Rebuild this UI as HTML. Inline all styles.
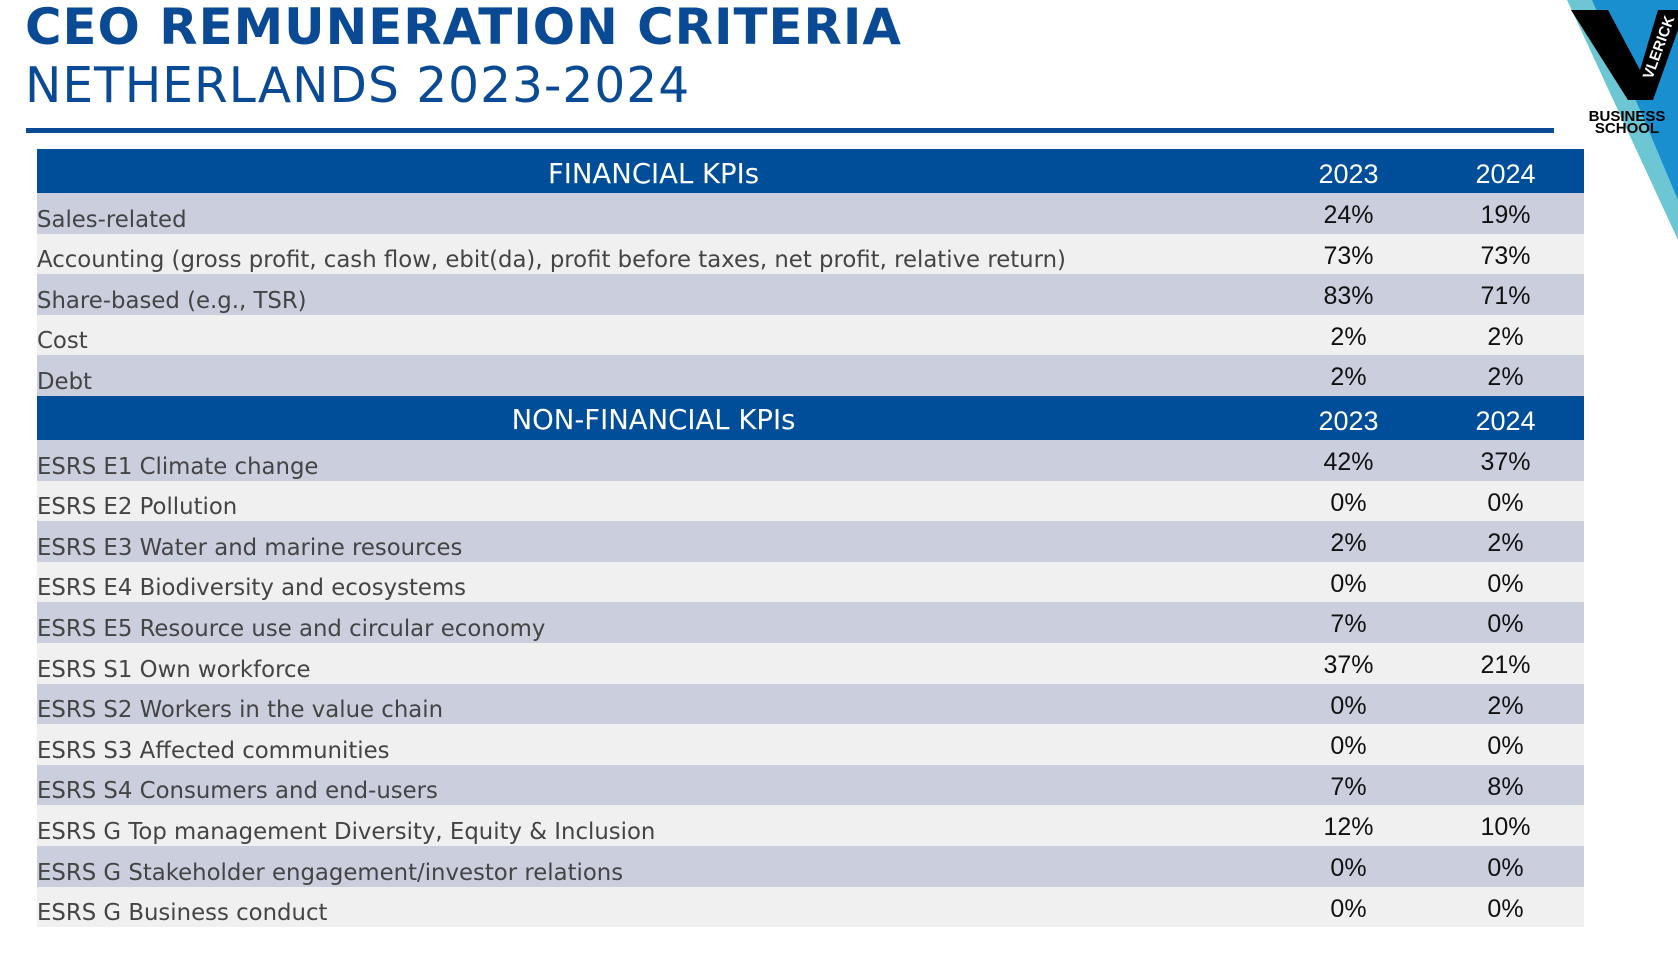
<!DOCTYPE html>
<html><head><meta charset="utf-8"><style>
body{margin:0;width:1678px;height:955px;background:#fff;position:relative;overflow:hidden;font-family:"DejaVu Sans",Verdana,sans-serif}
.t1{position:absolute;left:25px;top:-2px;font-size:49.8px;font-weight:bold;color:#0a4a94;letter-spacing:1px;white-space:nowrap}
.t2{position:absolute;left:25px;top:58px;font-size:48.6px;color:#0a4a94;letter-spacing:1px;white-space:nowrap}
.rule{position:absolute;left:26px;top:128px;width:1528px;height:5px;background:#0a4a94}
table{position:absolute;left:37px;top:149px;width:1547px;border-collapse:collapse}
td{padding:0;height:40.6px;font-size:22.8px;color:#444;white-space:nowrap;vertical-align:bottom;padding-bottom:1px;box-sizing:border-box}
td.n{font-family:"Liberation Sans",Arial,sans-serif;color:#111;font-size:25px;text-align:center;vertical-align:top;padding-top:8px;width:157px}
tr.h td{background:#004d99;color:#fff;height:44px;font-size:27.5px;text-align:center;vertical-align:middle;padding:5px 0 0 0}
tr.h td.n{color:#fff;font-size:27px;padding-top:7px}
tr.a td{background:#cbcedd}
tr.b td{background:#f0f0f1}
</style></head><body>
<div class="t1">CEO REMUNERATION CRITERIA</div>
<div class="t2">NETHERLANDS 2023-2024</div>
<div class="rule"></div>
<svg style="position:absolute;left:1560px;top:0" width="118" height="250" viewBox="1560 0 118 250">
<polygon points="1567,0 1678,0 1678,240" fill="#6cc6d4"/>
<polygon points="1592,0 1678,0 1678,200 1640,110" fill="#1a8fd0"/>
<polygon points="1571,10 1608,10 1640,70 1658,10 1678,10 1678,30 1653,100 1628,100" fill="#000"/>
<text x="1652" y="80" transform="rotate(-70 1652 80)" font-family="Liberation Sans" font-weight="bold" font-size="15" fill="#fff">VLERICK</text>
<text x="1627" y="121" text-anchor="middle" font-family="Liberation Sans" font-weight="bold" font-size="15" fill="#000">BUSINESS</text>
<text x="1627" y="133" text-anchor="middle" font-family="Liberation Sans" font-weight="bold" font-size="15" fill="#000">SCHOOL</text>
</svg>
<table>
<tr class="h"><td>FINANCIAL KPIs</td><td class="n">2023</td><td class="n">2024</td></tr>
<tr class="a"><td>Sales-related</td><td class="n">24%</td><td class="n">19%</td></tr>
<tr class="b"><td>Accounting (gross profit, cash flow, ebit(da), profit before taxes, net profit, relative return)</td><td class="n">73%</td><td class="n">73%</td></tr>
<tr class="a"><td>Share-based (e.g., TSR)</td><td class="n">83%</td><td class="n">71%</td></tr>
<tr class="b"><td>Cost</td><td class="n">2%</td><td class="n">2%</td></tr>
<tr class="a"><td>Debt</td><td class="n">2%</td><td class="n">2%</td></tr>
<tr class="h"><td>NON-FINANCIAL KPIs</td><td class="n">2023</td><td class="n">2024</td></tr>
<tr class="a"><td>ESRS E1 Climate change</td><td class="n">42%</td><td class="n">37%</td></tr>
<tr class="b"><td>ESRS E2 Pollution</td><td class="n">0%</td><td class="n">0%</td></tr>
<tr class="a"><td>ESRS E3 Water and marine resources</td><td class="n">2%</td><td class="n">2%</td></tr>
<tr class="b"><td>ESRS E4 Biodiversity and ecosystems</td><td class="n">0%</td><td class="n">0%</td></tr>
<tr class="a"><td>ESRS E5 Resource use and circular economy</td><td class="n">7%</td><td class="n">0%</td></tr>
<tr class="b"><td>ESRS S1 Own workforce</td><td class="n">37%</td><td class="n">21%</td></tr>
<tr class="a"><td>ESRS S2 Workers in the value chain</td><td class="n">0%</td><td class="n">2%</td></tr>
<tr class="b"><td>ESRS S3 Affected communities</td><td class="n">0%</td><td class="n">0%</td></tr>
<tr class="a"><td>ESRS S4 Consumers and end-users</td><td class="n">7%</td><td class="n">8%</td></tr>
<tr class="b"><td>ESRS G Top management Diversity, Equity &amp; Inclusion</td><td class="n">12%</td><td class="n">10%</td></tr>
<tr class="a"><td>ESRS G Stakeholder engagement/investor relations</td><td class="n">0%</td><td class="n">0%</td></tr>
<tr class="b"><td>ESRS G Business conduct</td><td class="n">0%</td><td class="n">0%</td></tr>
</table>
</body></html>
